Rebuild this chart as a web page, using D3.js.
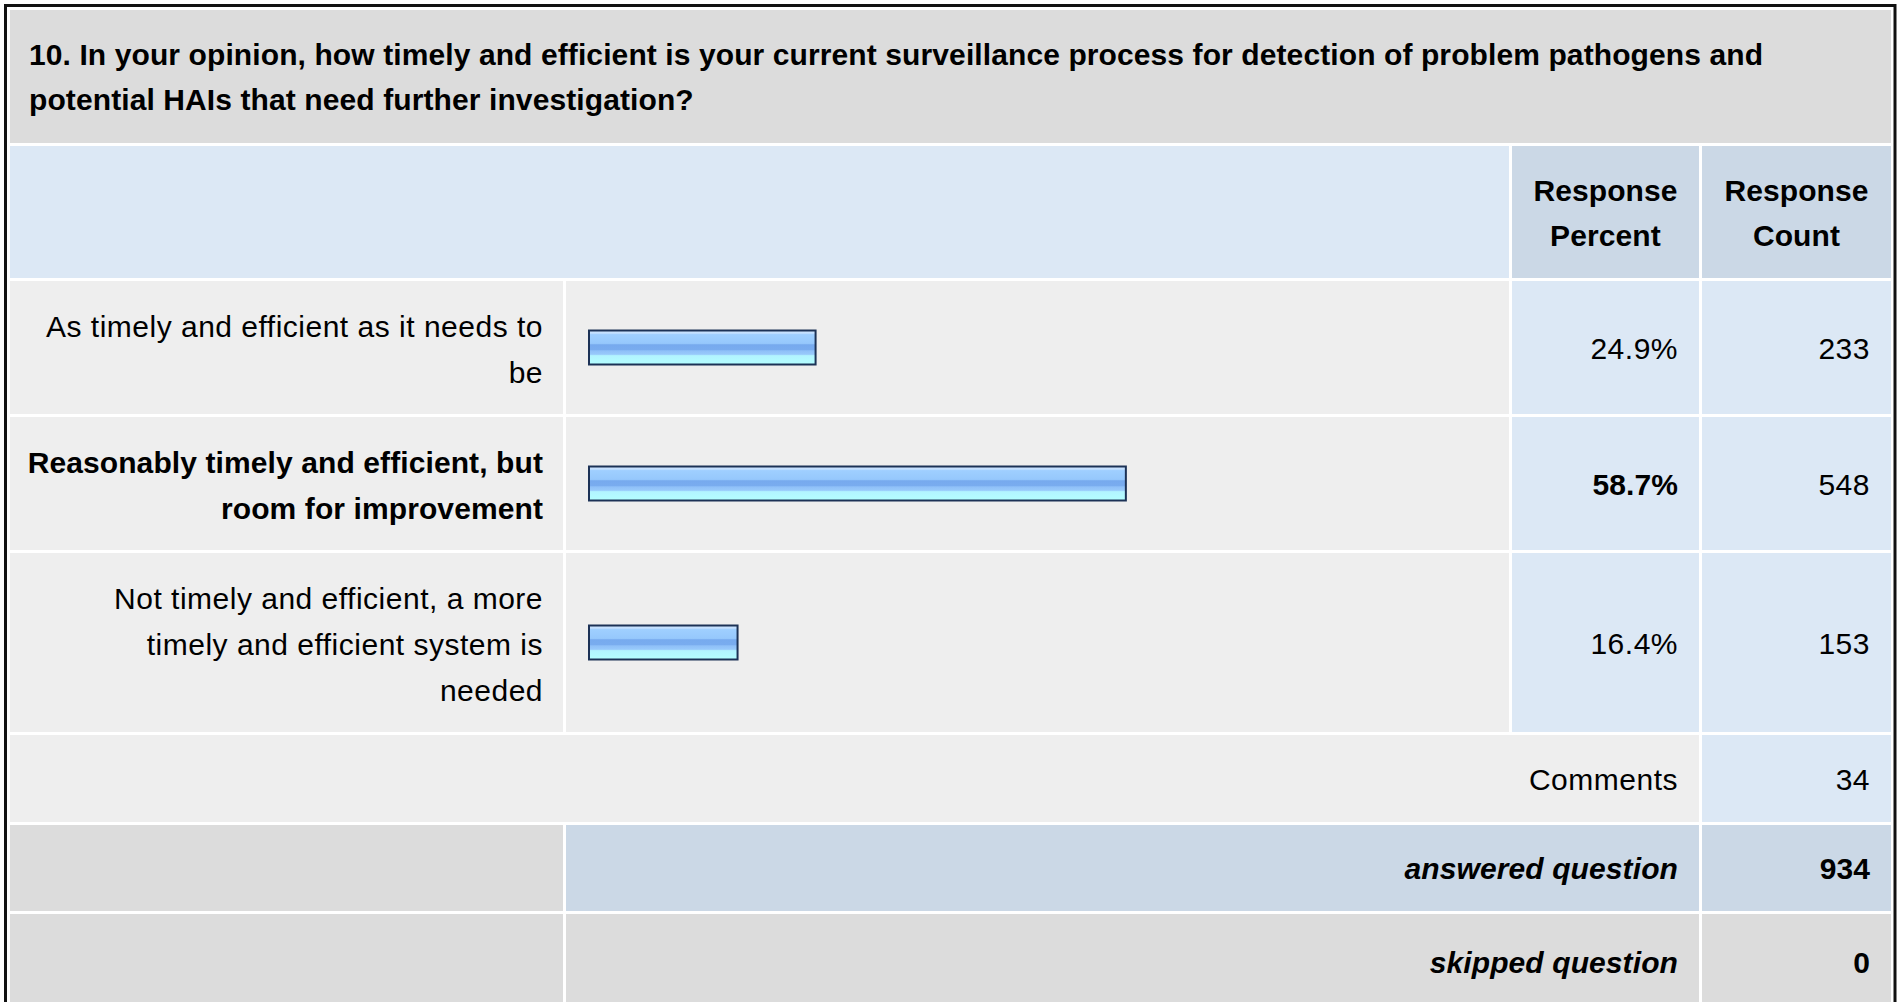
<!DOCTYPE html>
<html lang="en">
  <head>
    <meta charset="utf-8">
    <title>Survey question 10</title>
    <script src="https://d3js.org/d3.v7.min.js"></script>
    <style>
      body { margin: 0; background: white; }
      text { font-family: "Liberation Sans", Arial, sans-serif; font-size: 30px; fill: #000; letter-spacing: 0.5px; }
      text.b { font-weight: bold; letter-spacing: 0.1px; }
    </style>
  </head>
  <body>
    <svg width="1897" height="1002"></svg>
    <script>
      // question and answer data
      var titleLines = [
        "10. In your opinion, how timely and efficient is your current surveillance process for detection of problem pathogens and",
        "potential HAIs that need further investigation?"
      ];
      var answerLines = [
        ["As timely and efficient as it needs to", "be"],
        ["Reasonably timely and efficient, but", "room for improvement"],
        ["Not timely and efficient, a more", "timely and efficient system is", "needed"]
      ];
      var percents = [24.9, 58.7, 16.4];
      var counts = [233, 548, 153];
      var headers = [["Response", "Percent"], ["Response", "Count"]];
      var commentsCount = 34;
      var answeredCount = 934;
      var skippedCount = 0;

      var svg = d3.select("svg");
      var gray = "#dcdcdc", light = "#eeeeee", blue = "#dce8f5", blueDark = "#cbd8e6";
      var lh = 45, lhRow = 46;

      // column edges
      var colL = [10, 566, 1512, 1702];
      var colR = [563, 1509, 1699, 1891];
      // row edges: title, header, 3 answers, comments, answered, skipped
      var rowT = [10, 146, 281, 417, 553, 735, 825, 914];
      var rowB = [143, 278, 414, 550, 732, 822, 911, 1010];
      function mid(r) { return (rowT[r] + rowB[r]) / 2; }

      var defs = svg.append("defs");
      var grad = defs.append("linearGradient").attr("id", "barGrad")
        .attr("x1", 0).attr("y1", 0).attr("x2", 0).attr("y2", 1);
      [[0, "#cfe6ff"], [0.08, "#c2dfff"], [0.12, "#9fcfff"], [0.38, "#96c8fc"],
       [0.42, "#77aaee"], [0.56, "#79acef"], [0.6, "#8fc0f8"], [0.7, "#98c9fb"],
       [0.74, "#b2f4ff"], [1, "#b4ffff"]].forEach(function(s) {
        grad.append("stop").attr("offset", s[0]).attr("stop-color", s[1]);
      });

      function cell(c0, c1, r, fill) {
        svg.append("rect").attr("x", colL[c0]).attr("y", rowT[r])
          .attr("width", colR[c1] - colL[c0]).attr("height", rowB[r] - rowT[r])
          .attr("fill", fill);
      }

      // outer border
      svg.append("rect").attr("x", 5.5).attr("y", 5.5).attr("width", 1889.5).attr("height", 1100)
        .attr("fill", "white").attr("stroke", "#111").attr("stroke-width", 3);

      // title
      cell(0, 3, 0, gray);
      svg.append("g").selectAll("text").data(titleLines).enter().append("text")
        .attr("class", "b")
        .attr("x", 29).attr("y", function(d, i) { return mid(0) + 11 - lh / 2 + i * lh; })
        .text(function(d) { return d; });

      // header
      cell(0, 1, 1, blue);
      cell(2, 2, 1, blueDark);
      cell(3, 3, 1, blueDark);
      headers.forEach(function(h, k) {
        var cx = (colL[k + 2] + colR[k + 2]) / 2;
        svg.append("g").selectAll("text").data(h).enter().append("text")
          .attr("class", "b").attr("x", cx).attr("text-anchor", "middle")
          .attr("y", function(d, i) { return mid(1) + 11 - (h.length - 1) * lh / 2 + i * lh; })
          .text(function(d) { return d; });
      });

      // answer rows
      var x = d3.scaleLinear().domain([0, 100]).range([588, 588 + 918]);
      var maxP = d3.max(percents);
      percents.forEach(function(p, i) {
        var r = i + 2;
        var cls = p == maxP ? "b" : null;
        cell(0, 0, r, light);
        cell(1, 1, r, light);
        cell(2, 2, r, blue);
        cell(3, 3, r, blue);
        var lines = answerLines[i];
        svg.append("g").selectAll("text").data(lines).enter().append("text")
          .attr("class", cls).attr("x", 543).attr("text-anchor", "end")
          .attr("y", function(d, j) { return mid(r) + 12 - (lines.length - 1) * lhRow / 2 + j * lhRow; })
          .text(function(d) { return d; });
        svg.append("rect").attr("x", x(0) + 1).attr("y", mid(r) - 17)
          .attr("width", x(p) - x(0) - 2).attr("height", 34)
          .attr("fill", "url(#barGrad)").attr("stroke", "#1c3256").attr("stroke-width", 2);
        svg.append("text").attr("class", cls).attr("x", 1678).attr("y", mid(r) + 11)
          .attr("text-anchor", "end").text(d3.format(".1f")(p) + "%");
        svg.append("text").attr("x", 1870).attr("y", mid(r) + 11).attr("text-anchor", "end")
          .text(counts[i]);
      });

      // comments row
      cell(0, 2, 5, light);
      cell(3, 3, 5, blue);
      svg.append("text").attr("x", 1678).attr("y", mid(5) + 11).attr("text-anchor", "end").text("Comments");
      svg.append("text").attr("x", 1870).attr("y", mid(5) + 11).attr("text-anchor", "end").text(commentsCount);

      // answered / skipped
      var totals = [["answered question", answeredCount, blueDark], ["skipped question", skippedCount, gray]];
      totals.forEach(function(t, i) {
        var r = 6 + i;
        cell(0, 0, r, gray);
        cell(1, 2, r, t[2]);
        cell(3, 3, r, t[2]);
        svg.append("text").attr("class", "b").attr("x", 1678).attr("y", mid(r) + 11)
          .attr("text-anchor", "end").attr("font-style", "italic").text(t[0]);
        svg.append("text").attr("class", "b").attr("x", 1870).attr("y", mid(r) + 11)
          .attr("text-anchor", "end").text(t[1]);
      });
    </script>
  </body>
</html>
